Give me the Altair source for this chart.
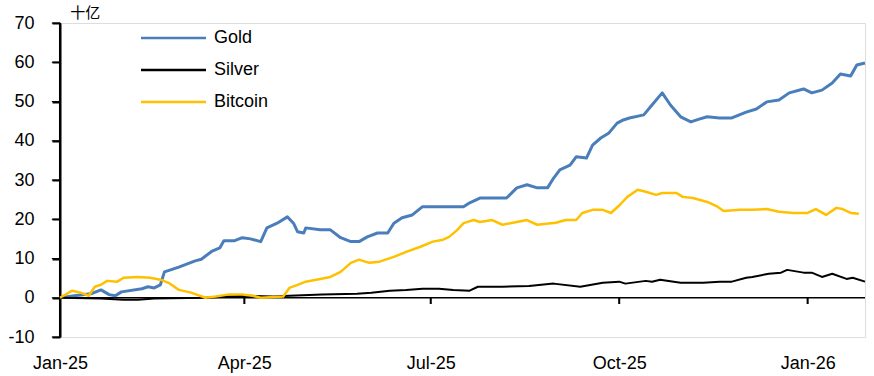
import altair as alt
import pandas as pd

gold_dates = ["2025-01-01","2025-01-08","2025-01-16","2025-01-21","2025-01-25","2025-01-28","2025-01-31",
 "2025-02-10","2025-02-13","2025-02-16","2025-02-19","2025-02-21","2025-02-28","2025-03-08","2025-03-11",
 "2025-03-16","2025-03-20","2025-03-22","2025-03-27","2025-03-31","2025-04-04","2025-04-09","2025-04-12",
 "2025-04-17","2025-04-22","2025-04-25","2025-04-27","2025-04-30","2025-05-01","2025-05-08","2025-05-13",
 "2025-05-18","2025-05-23","2025-05-27","2025-05-31","2025-06-05","2025-06-10","2025-06-13","2025-06-17",
 "2025-06-22","2025-06-27","2025-07-02","2025-07-17","2025-07-20","2025-07-25","2025-08-07","2025-08-12",
 "2025-08-17","2025-08-22","2025-08-27","2025-08-30","2025-09-02","2025-09-07","2025-09-10","2025-09-15",
 "2025-09-18","2025-09-22","2025-09-26","2025-09-30","2025-10-03","2025-10-06","2025-10-13","2025-10-17",
 "2025-10-22","2025-10-26","2025-10-31","2025-11-05","2025-11-09","2025-11-13","2025-11-19","2025-11-25",
 "2025-12-02","2025-12-07","2025-12-12","2025-12-18","2025-12-23","2025-12-30","2026-01-03","2026-01-08",
 "2026-01-13","2026-01-17","2026-01-22","2026-01-25","2026-01-29"]
gold_values = [0, 0.5, 1, 2, 0.8, 0.5, 1.5,
 2.3, 2.8, 2.5, 3.3, 6.6, 7.8, 9.4, 9.8,
 11.8, 12.7, 14.5, 14.5, 15.3, 15, 14.3, 17.8,
 19, 20.6, 19, 16.8, 16.5, 17.8, 17.3, 17.3,
 15.3, 14.3, 14.3, 15.5, 16.5, 16.5, 19, 20.4,
 21.1, 23.2, 23.2, 23.2, 24.2, 25.4, 25.4, 28,
 28.8, 28, 28, 30.5, 32.6, 33.8, 35.9, 35.6,
 38.9, 40.7, 42, 44.5, 45.3, 45.8, 46.6, 49.1,
 52.2, 49.1, 46.1, 44.8, 45.5, 46.1, 45.8, 45.8,
 47.3, 48.1, 49.9, 50.4, 52.2, 53.2, 52.2, 52.9,
 54.7, 57, 56.5, 59.3, 59.8]

silver_dates = ["2025-01-01","2025-01-21","2025-02-01","2025-02-08","2025-02-16","2025-03-13","2025-03-24",
 "2025-04-01","2025-04-15","2025-04-23","2025-05-09","2025-05-26","2025-06-02","2025-06-11","2025-06-19",
 "2025-06-27","2025-07-05","2025-07-12","2025-07-20","2025-07-24","2025-08-05","2025-08-18","2025-08-30",
 "2025-09-12","2025-09-23","2025-10-01","2025-10-04","2025-10-14","2025-10-17","2025-10-21","2025-10-31",
 "2025-11-11","2025-11-19","2025-11-25","2025-12-02","2025-12-05","2025-12-13","2025-12-19","2025-12-22",
 "2025-12-30","2026-01-03","2026-01-08","2026-01-13","2026-01-20","2026-01-23","2026-01-29"]
silver_values = [0, -0.2, -0.5, -0.5, -0.2, 0, 0.3,
 0.5, 0.3, 0.5, 0.8, 1, 1.3, 1.8, 2,
 2.3, 2.3, 2, 1.8, 2.8, 2.8, 3, 3.6,
 2.8, 3.8, 4.1, 3.6, 4.3, 4.1, 4.6, 3.8,
 3.8, 4.1, 4.1, 5.1, 5.3, 6.1, 6.4, 7.1,
 6.4, 6.4, 5.3, 6.1, 4.8, 5.1, 4.1]

bitcoin_dates = ["2025-01-01","2025-01-07","2025-01-11","2025-01-15","2025-01-18","2025-01-21","2025-01-24",
 "2025-01-29","2025-02-01","2025-02-08","2025-02-14","2025-02-19","2025-02-23","2025-02-28","2025-03-06",
 "2025-03-13","2025-03-18","2025-03-24","2025-03-31","2025-04-05","2025-04-09","2025-04-20","2025-04-23",
 "2025-04-27","2025-05-01","2025-05-08","2025-05-13","2025-05-18","2025-05-23","2025-05-27","2025-05-30",
 "2025-06-01","2025-06-06","2025-06-13","2025-06-19","2025-06-26","2025-07-02","2025-07-07","2025-07-10",
 "2025-07-14","2025-07-17","2025-07-22","2025-07-25","2025-07-31","2025-08-05","2025-08-12","2025-08-17",
 "2025-08-22","2025-08-31","2025-09-05","2025-09-10","2025-09-13","2025-09-18","2025-09-23","2025-09-27",
 "2025-10-01","2025-10-05","2025-10-10","2025-10-14","2025-10-19","2025-10-22","2025-10-29","2025-11-01",
 "2025-11-06","2025-11-13","2025-11-18","2025-11-21","2025-11-29","2025-12-05","2025-12-12","2025-12-18",
 "2025-12-25","2026-01-01","2026-01-05","2026-01-10","2026-01-15","2026-01-18","2026-01-22","2026-01-26"]
bitcoin_values = [0, 1.8, 1.3, 0.5, 2.8, 3.3, 4.3,
 4.1, 5.1, 5.3, 5.1, 4.6, 3.8, 2, 1.3,
 0, 0.3, 0.8, 0.8, 0.5, 0, 0.3, 2.5,
 3.3, 4.1, 4.8, 5.3, 6.6, 8.9, 9.7, 9.2,
 8.9, 9.2, 10.4, 11.7, 13, 14.3, 14.8, 15.5,
 17.3, 19, 19.8, 19.3, 19.8, 18.6, 19.3, 19.8,
 18.6, 19.1, 19.8, 19.8, 21.6, 22.4, 22.4, 21.6,
 23.5, 25.7, 27.5, 27, 26.2, 26.7, 26.7, 25.7,
 25.4, 24.4, 23.2, 22.1, 22.4, 22.4, 22.6, 21.9,
 21.6, 21.6, 22.6, 21.1, 22.9, 22.6, 21.6, 21.4]

series_names = ["Gold", "Silver", "Bitcoin"]
series_colors = ["#4a7ebb", "#000000", "#ffc000"]
series_widths = [3, 2, 2.5]
y_ticks = [-10, 0, 10, 20, 30, 40, 50, 60, 70]
x_tick_dates = ["2025-01-01", "2025-04-01", "2025-07-01", "2025-10-01", "2026-01-01"]
inner_tick_dates = ["2025-04-01", "2025-07-01", "2025-10-01", "2026-01-01"]
unit_label = "十亿"

rows = []
for name, ds, vs in [("Gold", gold_dates, gold_values),
                     ("Silver", silver_dates, silver_values),
                     ("Bitcoin", bitcoin_dates, bitcoin_values)]:
    for d, v in zip(ds, vs):
        rows.append({"date": d, "value": v, "series": name})
df = pd.DataFrame(rows)

FONT = "Liberation Sans"
x_scale = alt.Scale(type="utc",
                    domain=[alt.DateTime(year=2025, month=1, date=1, utc=True),
                            alt.DateTime(year=2026, month=1, date=29, utc=True)])
y_scale = alt.Scale(domain=[-10, 70], nice=False)

x_axis = alt.Axis(values=x_tick_dates, labelExpr="utcFormat(datum.value, '%b-%y')",
                  title=None, domainOpacity=0, tickOpacity=0, gridOpacity=0,
                  labelFontSize=18, labelFont=FONT, labelColor="#000",
                  labelPadding=12, labelAlign="center", labelOverlap=False)
y_axis = alt.Axis(values=y_ticks, labelExpr="'' + datum.value", title=None,
                  gridOpacity=0, domain=True, domainColor="black",
                  domainWidth=2, ticks=True, tickColor="black", tickWidth=2, tickSize=8,
                  labelPadding=18, labelFontSize=18, labelFont=FONT, labelColor="#000",
                  labelOverlap=False)

color_enc = alt.Color("series:N", scale=alt.Scale(domain=series_names, range=series_colors),
                      legend=alt.Legend(title=None, orient="none", legendX=104.5, legendY=6,
                                        direction="vertical", padding=0,
                                        symbolType="M-6.5,0H6.5", symbolSize=100,
                                        symbolStrokeWidth=2.5, labelOffset=31.5,
                                        labelFontSize=18, labelFont=FONT, labelColor="#000",
                                        rowPadding=14))

# y-axis line drawn as a thin bar (fallback to the axis domain)
yline_df = pd.DataFrame({"a": ["2024-12-31T12:00:00Z"], "b": ["2025-01-01T12:00:00Z"],
                         "lo": [y_ticks[0]], "hi": [y_ticks[-1]]})
y_line = alt.Chart(yline_df).mark_rect(color="#000").encode(
    x=alt.X("a:T", scale=x_scale, axis=x_axis), x2="b:T",
    y=alt.Y("lo:Q", scale=y_scale, axis=y_axis), y2="hi:Q",
)
ytick_df = pd.DataFrame({"v": y_ticks})
y_tick_bars = alt.Chart(ytick_df).mark_rect(color="#000").encode(
    x=alt.X("a:T", scale=x_scale, axis=x_axis), x2="b:T",
    y=alt.Y("lo:Q", scale=y_scale, axis=y_axis), y2="hi:Q",
).transform_calculate(
    a="datetime(2024, 11, 28)", b="datetime(2025, 0, 1)",
    lo="datum.v - 0.13", hi="datum.v + 0.13",
)

zero_df = pd.DataFrame({"v": [0]})
zero_line = alt.Chart(zero_df).mark_rule(color="#000", strokeWidth=1.5).encode(
    y=alt.Y("v:Q", scale=y_scale, axis=y_axis)
)

tick_df = pd.DataFrame({"d": inner_tick_dates})
x_ticks = alt.Chart(tick_df).mark_rect(color="#000").encode(
    x=alt.X("a:T", scale=x_scale, axis=x_axis), x2="b:T",
    y=alt.Y("lo:Q", scale=y_scale, axis=y_axis), y2="hi:Q",
).transform_calculate(
    a="toDate(datum.d) - 12*3600*1000", b="toDate(datum.d) + 12*3600*1000",
    lo="0", hi="-1.6",
)

unit_df = pd.DataFrame({"t": [unit_label], "d": ["2025-01-06"], "v": [72.5]})
unit_text = alt.Chart(unit_df).mark_text(
    font="Noto Sans CJK SC", fontSize=15, align="left", baseline="middle", color="#000"
).encode(
    x=alt.X("d:T", scale=x_scale, axis=x_axis),
    y=alt.Y("v:Q", scale=y_scale, axis=y_axis),
    text="t:N",
)

line_layers = []
for name, w in zip(series_names, series_widths):
    line_layers.append(
        alt.Chart(df).transform_filter(alt.datum.series == name)
        .mark_line(strokeJoin="round", strokeWidth=w)
        .encode(
            x=alt.X("date:T", scale=x_scale, axis=x_axis),
            y=alt.Y("value:Q", scale=y_scale, axis=y_axis),
            color=color_enc,
        )
    )

chart = alt.layer(zero_line, x_ticks, y_line, y_tick_bars, unit_text, *line_layers).properties(
    width=805, height=314,
    autosize="none",
    padding={"left": 60, "top": 23, "right": 9, "bottom": 39},
).configure_view(strokeOpacity=0).configure(background="white")

chart.save("out.html", embed_options={"renderer": "svg", "actions": False})
